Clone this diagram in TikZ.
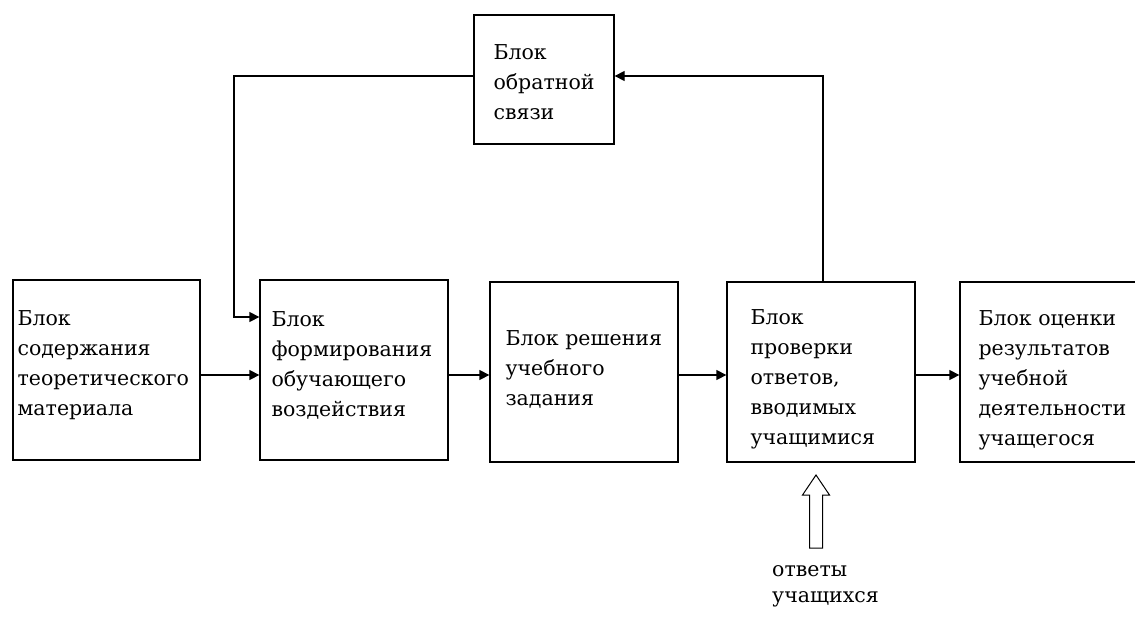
\documentclass[tikz,border=0pt]{standalone}
\usepackage{fontspec}
\setmainfont{DejaVu Serif}
\usetikzlibrary{arrows.meta}
\begin{document}
\begin{tikzpicture}[x=1pt,y=1pt,
  blk/.style={draw, line width=1.3pt, rectangle, inner sep=0pt},
  txt/.style={align=left, inner sep=0pt, anchor=west, font=\fontsize{20.5}{30}\selectfont},
  conn/.style={line width=1.3pt, -{Triangle[length=10pt,width=10pt]}},
  hollow/.style={draw, line width=1pt, line join=miter}
]
\useasboundingbox (0,0) rectangle (1135,-619);
\clip (0,0) rectangle (1135,-619);
% boxes
\node[blk, minimum width=187pt, minimum height=180pt] (b1) at (106.5,-370) {};
\node[blk, minimum width=188pt, minimum height=180pt] (b2) at (354,-370) {};
\node[blk, minimum width=188pt, minimum height=180pt] (b3) at (584,-372) {};
\node[blk, minimum width=188pt, minimum height=180pt] (b4) at (821,-372) {};
\node[blk, minimum width=190pt, minimum height=180pt] (b5) at (1055,-372) {};
\node[blk, minimum width=140pt, minimum height=129pt] (fb) at (544,-79.5) {};
% texts
\node[txt] (t1) at ([xshift=5pt,yshift=5pt]b1.west) {Блок\\содержания\\теоретического\\материала};
\node[txt] (t2) at ([xshift=12pt,yshift=5pt]b2.west) {Блок\\формирования\\обучающего\\воздействия};
\node[txt] (t3) at ([xshift=16pt,yshift=3pt]b3.west) {Блок решения\\учебного\\задания};
\node[txt] (t4) at ([xshift=24pt,yshift=-7pt]b4.west) {Блок\\проверки\\ответов,\\вводимых\\учащимися};
\node[txt] (t5) at ([xshift=19pt,yshift=-8pt]b5.west) {Блок оценки\\результатов\\учебной\\деятельности\\учащегося};
\node[txt] (tf) at ([xshift=20pt,yshift=-3pt]fb.west) {Блок\\обратной\\связи};
% main flow
\draw[conn] ([yshift=-5pt]b1.east) -- ([yshift=-5pt]b2.west);
\draw[conn] ([yshift=-5pt]b2.east) -- ([yshift=-3pt]b3.west);
\draw[conn] ([yshift=-3pt]b3.east) -- ([yshift=-3pt]b4.west);
\draw[conn] ([yshift=-3pt]b4.east) -- ([yshift=-3pt]b5.west);
% feedback loop
\coordinate (up) at (823,-76);
\coordinate (lf) at (234,-76);
\draw[conn] (b4.north -| up) -- (up) -- ([yshift=3.5pt]fb.east);
\draw[conn] ([yshift=3.5pt]fb.west) -- (lf) |- ([yshift=53pt]b2.west);
% incoming hollow arrow
\coordinate (tip) at (816,-475);
\draw[hollow] (tip) -- ++(13.5,-20) -- ++(-7,0) -- ++(0,-53) -- ++(-13,0) -- ++(0,53) -- ++(-7,0) -- cycle;
\node[txt, font=\fontsize{20.5}{26}\selectfont, anchor=north west] (tin) at (772,-565) {ответы\\учащихся};
\end{tikzpicture}
\end{document}
